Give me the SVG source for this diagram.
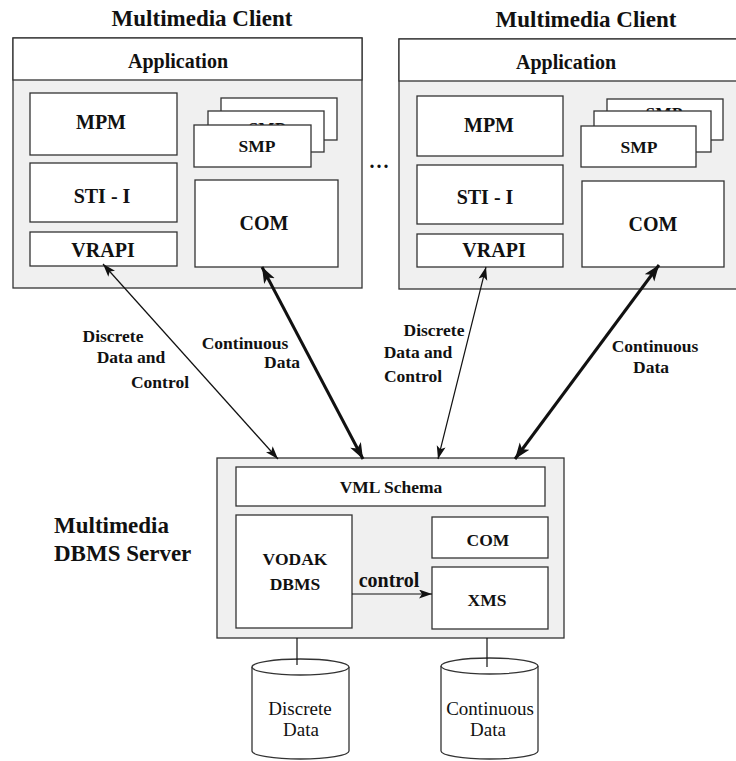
<svg xmlns="http://www.w3.org/2000/svg" width="736" height="761" viewBox="0 0 736 761">
  <style>
    .frame { fill: #f0f0f0; stroke: #333; stroke-width: 1.3; }
    .head { fill: #ffffff; stroke: #333; stroke-width: 1.3; }
    .box { fill: #ffffff; stroke: #333; stroke-width: 1.3; }
    .t { font-family: "Liberation Serif", "Times New Roman", serif; font-weight: bold; fill: #111; text-anchor: middle; }
    .title { font-size: 23px; }
    .big { font-size: 20px; }
    .mid { font-size: 17.5px; }
    .lbl { font-size: 17.5px; }
    .store { font-family: "Liberation Serif", "Times New Roman", serif; font-size: 19px; fill: #111; text-anchor: middle; }
    .thin { stroke: #111; stroke-width: 1.2; fill: none; }
    .thick { stroke: #111; stroke-width: 3; fill: none; }
  </style>
  <defs>
    <marker id="ah" markerUnits="userSpaceOnUse" markerWidth="14" markerHeight="10" refX="13" refY="4.5" orient="auto-start-reverse">
      <path d="M0,0 L13,4.5 L0,9 L3,4.5 z" fill="#111"/>
    </marker>
    <marker id="ahb" markerUnits="userSpaceOnUse" markerWidth="18" markerHeight="13" refX="16" refY="6" orient="auto-start-reverse">
      <path d="M0,0 L16,6 L0,12 L4,6 z" fill="#111"/>
    </marker>
  </defs>
  <rect width="736" height="761" fill="#ffffff"/>

  <!-- left client -->
  <g id="client-left">
    <text class="t title" x="202" y="26">Multimedia Client</text>
    <rect class="frame" x="13" y="38" width="349" height="250"/>
    <rect class="head" x="13" y="38" width="349" height="42"/>
    <text class="t big" x="178" y="68">Application</text>
    <g id="mpm-left"><rect class="box" x="30" y="93" width="147" height="62"/><text class="t big" x="101" y="129">MPM</text></g>
    <g id="sti-left"><rect class="box" x="30" y="163" width="147" height="59"/><text class="t big" x="102" y="203">STI - I</text></g>
    <g id="vrapi-left"><rect class="box" x="30" y="232" width="147" height="34"/><text class="t big" x="103" y="257">VRAPI</text></g>
    <g id="smp-left">
      <rect class="box" x="221" y="98" width="116" height="42"/>
      <rect class="box" x="208" y="111" width="116" height="41"/>
      <text class="t mid" x="267" y="134">SMP</text>
      <rect class="box" x="194" y="125" width="117" height="42"/>
      <text class="t mid" x="257" y="152">SMP</text>
    </g>
    <g id="com-left"><rect class="box" x="195" y="180" width="143" height="87"/><text class="t big" x="264" y="230">COM</text></g>
  </g>

  <text class="t big" x="380" y="168" letter-spacing="2">...</text>

  <!-- right client -->
  <g id="client-right">
    <text class="t title" x="586" y="27">Multimedia Client</text>
    <rect class="frame" x="399" y="39" width="345" height="250"/>
    <rect class="head" x="399" y="39" width="345" height="42"/>
    <text class="t big" x="566" y="69">Application</text>
    <g id="mpm-right"><rect class="box" x="417" y="96" width="146" height="60"/><text class="t big" x="489" y="132">MPM</text></g>
    <g id="sti-right"><rect class="box" x="417" y="165" width="146" height="59"/><text class="t big" x="485" y="204">STI - I</text></g>
    <g id="vrapi-right"><rect class="box" x="417" y="234" width="146" height="33"/><text class="t big" x="494" y="257">VRAPI</text></g>
    <g id="smp-right">
      <rect class="box" x="607" y="99" width="116" height="41"/>
      <text class="t mid" x="664" y="119">SMP</text>
      <rect class="box" x="594" y="111" width="117" height="41"/>
      <rect class="box" x="581" y="126" width="115" height="41"/>
      <text class="t mid" x="639" y="153">SMP</text>
    </g>
    <g id="com-right"><rect class="box" x="582" y="181" width="142" height="86"/><text class="t big" x="653" y="231">COM</text></g>
  </g>

  <!-- server -->
  <g id="server">
    <text class="t title" x="54" y="533" text-anchor="start" style="text-anchor:start">Multimedia</text>
    <text class="t title" x="54" y="561" style="text-anchor:start">DBMS Server</text>
    <rect class="frame" x="217" y="458" width="347" height="180"/>
    <g id="vml"><rect class="box" x="236" y="467" width="309" height="39"/><text class="t mid" x="391" y="493">VML Schema</text></g>
    <g id="vodak"><rect class="box" x="236" y="515" width="116" height="113"/><text class="t mid" x="295" y="565">VODAK</text><text class="t mid" x="295" y="590">DBMS</text></g>
    <g id="com-server"><rect class="box" x="432" y="517" width="116" height="41"/><text class="t mid" x="488" y="546">COM</text></g>
    <g id="xms"><rect class="box" x="432" y="567" width="116" height="62"/><text class="t mid" x="487" y="606">XMS</text></g>
  </g>

  <!-- data stores -->
  <g id="store-discrete">
    <path class="box" d="M252,667 L252,751 A48.5,8 0 0 0 349,751 L349,667"/>
    <ellipse class="box" cx="300.5" cy="667" rx="48.5" ry="8"/>
    <text class="store" x="300" y="715">Discrete</text>
    <text class="store" x="301" y="736">Data</text>
  </g>
  <g id="store-continuous">
    <path class="box" d="M441,666 L441,751 A48.5,8 0 0 0 538,751 L538,666"/>
    <ellipse class="box" cx="489.5" cy="666" rx="48.5" ry="8"/>
    <text class="store" x="490" y="715">Continuous</text>
    <text class="store" x="488" y="736">Data</text>
  </g>

  <!-- connectors -->
  <g id="connectors">
    <line class="thin" x1="103" y1="264" x2="278" y2="459" marker-start="url(#ah)" marker-end="url(#ah)"/>
    <line class="thick" x1="262" y1="267" x2="363" y2="459" marker-start="url(#ahb)" marker-end="url(#ahb)"/>
    <line class="thin" x1="486" y1="267" x2="438" y2="459" marker-start="url(#ah)" marker-end="url(#ah)"/>
    <line class="thick" x1="659" y1="265" x2="515" y2="459" marker-start="url(#ahb)" marker-end="url(#ahb)"/>
    <line class="thin" x1="352" y1="594" x2="432" y2="594" marker-end="url(#ah)"/>
    <line class="thin" x1="297" y1="638" x2="297" y2="665"/>
    <line class="thin" x1="487" y1="638" x2="487" y2="667"/>
    <text class="t big" x="389" y="587">control</text>
    <text class="t lbl" x="113" y="342">Discrete</text>
    <text class="t lbl" x="131" y="363">Data and</text>
    <text class="t lbl" x="160" y="388">Control</text>
    <text class="t lbl" x="245" y="349">Continuous</text>
    <text class="t lbl" x="282" y="368">Data</text>
    <text class="t lbl" x="434" y="336">Discrete</text>
    <text class="t lbl" x="418" y="358">Data and</text>
    <text class="t lbl" x="413" y="382">Control</text>
    <text class="t lbl" x="655" y="352">Continuous</text>
    <text class="t lbl" x="651" y="373">Data</text>
  </g>
</svg>
